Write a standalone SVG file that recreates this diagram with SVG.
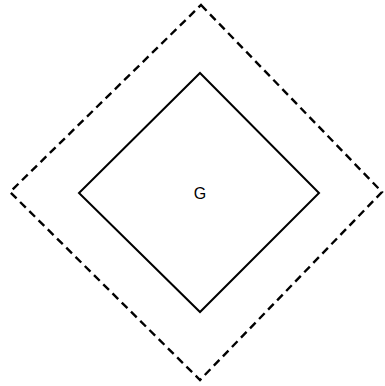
<svg xmlns="http://www.w3.org/2000/svg" width="385" height="386" viewBox="0 0 385 386">
<style>
.outer{fill:none;stroke:#000;stroke-width:2.4;stroke-dasharray:8,5}
.inner{fill:none;stroke:#000;stroke-width:2}
.lbl{font-family:"Liberation Sans",Arial,sans-serif;font-size:16px;fill:#000;text-anchor:middle}
</style>
<rect width="385" height="386" fill="#fff"/>
<g id="cluster">
<polygon class="outer" points="201,5 382,192 200,380 10,192"/>
</g>
<g id="G">
<polygon class="inner" points="200,73 319,193 200,312 79,193"/>
<text class="lbl" x="200" y="199">G</text>
</g>
<g id="connectors"/>
</svg>
